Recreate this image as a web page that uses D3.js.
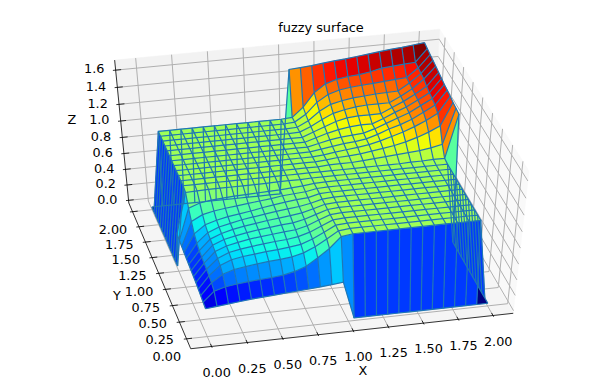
<!DOCTYPE html>
<html>
<head>
<meta charset="utf-8">
<script src="https://d3js.org/d3.v7.min.js"></script>
<style>
  body { margin: 0; background: #fff; }
  text { font-family: "DejaVu Sans", sans-serif; fill: #000; }
</style>
</head>
<body>
<svg id="chart" width="616" height="388"></svg>
<script>
var xValues = [0,.08,.16,.24,.32,.4,.48,.56,.64,.72,.8,.88,.96,1.04,1.12,1.2,1.28,1.36,1.44,1.52,1.6,1.68,1.76,1.84,1.92,2]
var yValues = xValues
var xTicks = [0,0.25,0.5,0.75,1,1.25,1.5,1.75,2]
var yTicks = [0,0.25,0.5,0.75,1,1.25,1.5,1.75,2]
var zTicks = [0,0.2,0.4,0.6,0.8,1,1.2,1.4,1.6]
// one row per y value, one column per x value
var zRows = [
 [.33,.345,.36,.375,.39,.40,.41,.42,.43,.44,.45,.465,.48,0,0,0,0,0,0,0,0,0,0,0,0,0],
 [.345,.47,.51,.53,.545,.555,.565,.58,.61,.66,.75,.85,.98,1,1,1,1,1,1,1,1,1,1,1,1,0],
 [.36,.51,.60,.645,.665,.685,.70,.71,.725,.76,.82,.90,.985,1,1,1,1,1,1,1,1,1,1,1,1,0],
 [.375,.53,.645,.70,.725,.74,.755,.765,.78,.80,.85,.92,.99,1,1,1,1,1,1,1,1,1,1,1,1,0],
 [.39,.545,.665,.725,.75,.77,.785,.80,.81,.83,.87,.93,.99,1,1,1,1,1,1,1,1,1,1,1,1,0],
 [.40,.555,.685,.74,.77,.795,.81,.825,.84,.85,.885,.94,.99,1,1,1,1,1,1,1,1,1,1,1,1,0],
 [.41,.565,.70,.755,.785,.81,.83,.845,.86,.87,.90,.945,.99,1,1,1,1,1,1,1,1,1,1,1,1,0],
 [.42,.58,.71,.765,.80,.825,.845,.865,.88,.895,.915,.95,.99,1,1,1,1,1,1,1,1,1,1,1,1,0],
 [.43,.61,.725,.78,.81,.84,.86,.88,.90,.915,.93,.955,.99,1,1,1,1,1,1,1,1,1,1,1,1,0],
 [.44,.66,.76,.80,.83,.85,.87,.895,.915,.935,.95,.96,.995,1,1,1,1,1,1,1,1,1,1,1,1,0],
 [.45,.75,.82,.85,.87,.885,.90,.915,.93,.95,.96,.97,.995,1,1,1,1,1,1,1,1,1,1,1,1,0],
 [.465,.85,.90,.92,.93,.94,.945,.95,.955,.96,.97,.98,.995,1,1,1,1,1,1,1,1,1,1,1,1,0],
 [.48,.98,.985,.99,.99,.99,.99,.99,.99,.995,.995,.995,1,1,1,1,1,1,1,1,1,1,1,1,1,0],
 [0,1,1,1,1,1,1,1,1,1,1,1,1,1,1,1,1,1,1,1,1,1.005,1.005,1.01,1.01,1.52],
 [0,1,1,1,1,1,1,1,1,1,1,1,1,1,1.01,1.01,1.01,1.02,1.03,1.04,1.05,1.06,1.07,1.09,1.12,1.53],
 [0,1,1,1,1,1,1,1,1,1,1,1,1,1,1.01,1.025,1.03,1.04,1.06,1.08,1.10,1.13,1.17,1.22,1.28,1.54],
 [0,1,1,1,1,1,1,1,1,1,1,1,1,1,1.01,1.03,1.045,1.06,1.08,1.11,1.15,1.19,1.24,1.30,1.37,1.555],
 [0,1,1,1,1,1,1,1,1,1,1,1,1,1,1.02,1.04,1.06,1.07,1.09,1.13,1.18,1.22,1.27,1.34,1.41,1.57],
 [0,1,1,1,1,1,1,1,1,1,1,1,1,1,1.03,1.06,1.08,1.09,1.10,1.14,1.19,1.24,1.29,1.36,1.43,1.58],
 [0,1,1,1,1,1,1,1,1,1,1,1,1,1,1.04,1.08,1.11,1.13,1.14,1.14,1.19,1.25,1.30,1.37,1.44,1.595],
 [0,1,1,1,1,1,1,1,1,1,1,1,1,1,1.05,1.10,1.15,1.18,1.19,1.19,1.19,1.25,1.31,1.38,1.46,1.61],
 [0,1,1,1,1,1,1,1,1,1,1,1,1,1.005,1.06,1.13,1.19,1.22,1.24,1.25,1.25,1.25,1.315,1.39,1.49,1.625],
 [0,1,1,1,1,1,1,1,1,1,1,1,1,1.005,1.07,1.17,1.24,1.27,1.29,1.30,1.31,1.315,1.32,1.40,1.50,1.64],
 [0,1,1,1,1,1,1,1,1,1,1,1,1,1.01,1.09,1.22,1.30,1.34,1.36,1.37,1.38,1.39,1.40,1.41,1.51,1.65],
 [0,1,1,1,1,1,1,1,1,1,1,1,1,1.01,1.12,1.28,1.37,1.41,1.43,1.44,1.46,1.49,1.50,1.51,1.52,1.665],
 [0,0,0,0,0,0,0,0,0,0,0,0,0,1.52,1.53,1.54,1.555,1.57,1.58,1.595,1.61,1.625,1.64,1.65,1.665,1.68]
]

var width = 616, height = 388
var svg = d3.select("#chart")

// view
var elev = 46 * Math.PI / 180, azim = -103 * Math.PI / 180, dist = 10
var cx = 316, cy = 188, sx = 319, sy = 197

// x and y get a margin, z sits on its data range, the panes stick out a bit further
var zLim = [d3.min(zRows, r => d3.min(r)), d3.max(zRows, r => d3.max(r))]
var xLim = [-0.1, 2.1], yLim = [-0.1, 2.1]
function paneLim(l) { var d = (l[1] - l[0]) / 12 / 4; return [l[0] - d, l[1] + d] }
var xPane = paneLim(xLim), yPane = paneLim(yLim), zPane = paneLim(zLim)

var xWorld = d3.scaleLinear().domain(xLim).range([-0.5, 0.5])
var yWorld = d3.scaleLinear().domain(yLim).range([-0.5, 0.5])
var zWorld = d3.scaleLinear().domain(zLim).range([-0.5, 0.5])
var xPixel = d3.scaleLinear().domain([-1, 1]).range([cx - sx, cx + sx])
var yPixel = d3.scaleLinear().domain([-1, 1]).range([cy + sy, cy - sy])

function project(x, y, z) {
    var a = xWorld(x), b = yWorld(y), c = zWorld(z)
    var u = -Math.sin(azim) * a + Math.cos(azim) * b
    var v = -Math.sin(elev) * Math.cos(azim) * a - Math.sin(elev) * Math.sin(azim) * b + Math.cos(elev) * c
    var w = Math.cos(elev) * Math.cos(azim) * a + Math.cos(elev) * Math.sin(azim) * b + Math.sin(elev) * c
    var f = dist / (dist - w)
    return { x: xPixel(u * f), y: yPixel(v * f), depth: w }
}

var line = d3.line().x(d => d.x).y(d => d.y)
function path3d(pts, closed) {
    return line(pts.map(p => project(p[0], p[1], p[2]))) + (closed ? "Z" : "")
}

// panes
var x0 = xPane[0], x1 = xPane[1], y0 = yPane[0], y1 = yPane[1], z0 = zPane[0], z1 = zPane[1]
var panes = [
    { fill: "#f9f9f9", pts: [[x1,y0,z0],[x1,y1,z0],[x1,y1,z1],[x1,y0,z1]] },
    { fill: "#f2f2f2", pts: [[x0,y1,z0],[x1,y1,z0],[x1,y1,z1],[x0,y1,z1]] },
    { fill: "#f5f5f5", pts: [[x0,y0,z0],[x1,y0,z0],[x1,y1,z0],[x0,y1,z0]] }
]
svg.append("g").selectAll("path").data(panes).enter().append("path")
    .attr("d", d => path3d(d.pts, true))
    .attr("fill", d => d.fill)
    .attr("stroke", d => d.fill)
    .attr("stroke-width", 0.5)

// grid
var grid = []
xTicks.forEach(t => grid.push([[t,y0,z0],[t,y1,z0],[t,y1,z1]]))
yTicks.forEach(t => grid.push([[x0,t,z0],[x1,t,z0],[x1,t,z1]]))
zTicks.forEach(t => grid.push([[x0,y1,t],[x1,y1,t],[x1,y0,t]]))
svg.append("g").selectAll("path").data(grid).enter().append("path")
    .attr("d", d => path3d(d, false))
    .attr("fill", "none")
    .attr("stroke", "#b0b0b0")
    .attr("stroke-width", 1)

// axis lines
var axisLines = [[[x0,y0,z0],[x1,y0,z0]], [[x0,y0,z0],[x0,y1,z0]], [[x0,y1,z0],[x0,y1,z1]]]
svg.append("g").selectAll("path").data(axisLines).enter().append("path")
    .attr("d", d => path3d(d, false))
    .attr("stroke", "#000")
    .attr("stroke-width", 0.8)

// ticks and their labels
var dTick = 2.3 / 12
var ticks = svg.append("g")
function addTicks(values, a, fmt, dx, dy, anchor) {
    values.forEach(t => {
        ticks.append("path").attr("d", path3d([a(t, 0.2), a(t, -0.1)], false))
            .attr("stroke", "#000").attr("stroke-width", 0.8)
        var p = project.apply(null, a(t, -0.1))
        ticks.append("text").attr("x", p.x + dx).attr("y", p.y + dy)
            .attr("text-anchor", anchor).attr("font-size", 12.8).text(fmt(t))
    })
}
var fmt2 = d3.format(".2f"), fmt1 = d3.format(".1f")
addTicks(xTicks, (t, k) => [t, y0 + k * dTick, z0], fmt2, 4.5, 29, "middle")
addTicks(yTicks, (t, k) => [x0 + k * dTick, t, z0], fmt2, -17, 22, "middle")
addTicks(zTicks, (t, k) => [x0 + k * dTick, y1, t], fmt1, -8.5, 3, "end")

svg.append("text").attr("x", 363).attr("y", 375).attr("text-anchor", "middle").attr("font-size", 12.8).text("X")
svg.append("text").attr("x", 117).attr("y", 300).attr("text-anchor", "middle").attr("font-size", 12.8).text("Y")
svg.append("text").attr("x", 72).attr("y", 124).attr("text-anchor", "middle").attr("font-size", 12.8).text("Z")
svg.append("text").attr("x", 321).attr("y", 32).attr("text-anchor", "middle").attr("font-size", 12.9).text("fuzzy surface")

// surface, far cells first
var cells = []
d3.range(yValues.length - 1).forEach(j => {
    d3.range(xValues.length - 1).forEach(i => {
        var pts = [[i,j],[i+1,j],[i+1,j+1],[i,j+1]].map(q => [xValues[q[0]], yValues[q[1]], zRows[q[1]][q[0]]])
        cells.push({
            pts: pts,
            avg: d3.mean(pts, p => p[2]),
            depth: d3.mean(pts, p => project(p[0], p[1], p[2]).depth)
        })
    })
})
cells.sort((a, b) => d3.ascending(a.depth, b.depth))

var colorNorm = d3.scaleLinear().domain(d3.extent(cells, d => d.avg)).range([0, 1])
var jetR = d3.scaleLinear().domain([0,0.35,0.66,0.89,1]).range([0,0,255,255,128])
var jetG = d3.scaleLinear().domain([0,0.125,0.375,0.64,0.91,1]).range([0,0,255,255,0,0])
var jetB = d3.scaleLinear().domain([0,0.11,0.34,0.65,1]).range([128,255,255,0,0])
function jet(v) { var t = colorNorm(v); return d3.rgb(jetR(t), jetG(t), jetB(t)) }

svg.append("g").selectAll("path").data(cells).enter().append("path")
    .attr("d", d => path3d(d.pts, true))
    .attr("fill", d => jet(d.avg))
    .attr("stroke", d => jet(d.avg))
    .attr("stroke-width", 0.3)

// wireframe over the whole surface, it shows through the hidden walls too
var wires = zRows.map((r, j) => r.map((z, i) => [xValues[i], yValues[j], z]))
xValues.forEach((x, i) => wires.push(zRows.map((r, j) => [x, yValues[j], r[i]])))
svg.append("g").selectAll("path").data(wires).enter().append("path")
    .attr("d", d => path3d(d, false))
    .attr("fill", "none")
    .attr("stroke", "#1f77b4")
    .attr("stroke-width", 1.2)
</script>
</body>
</html>
